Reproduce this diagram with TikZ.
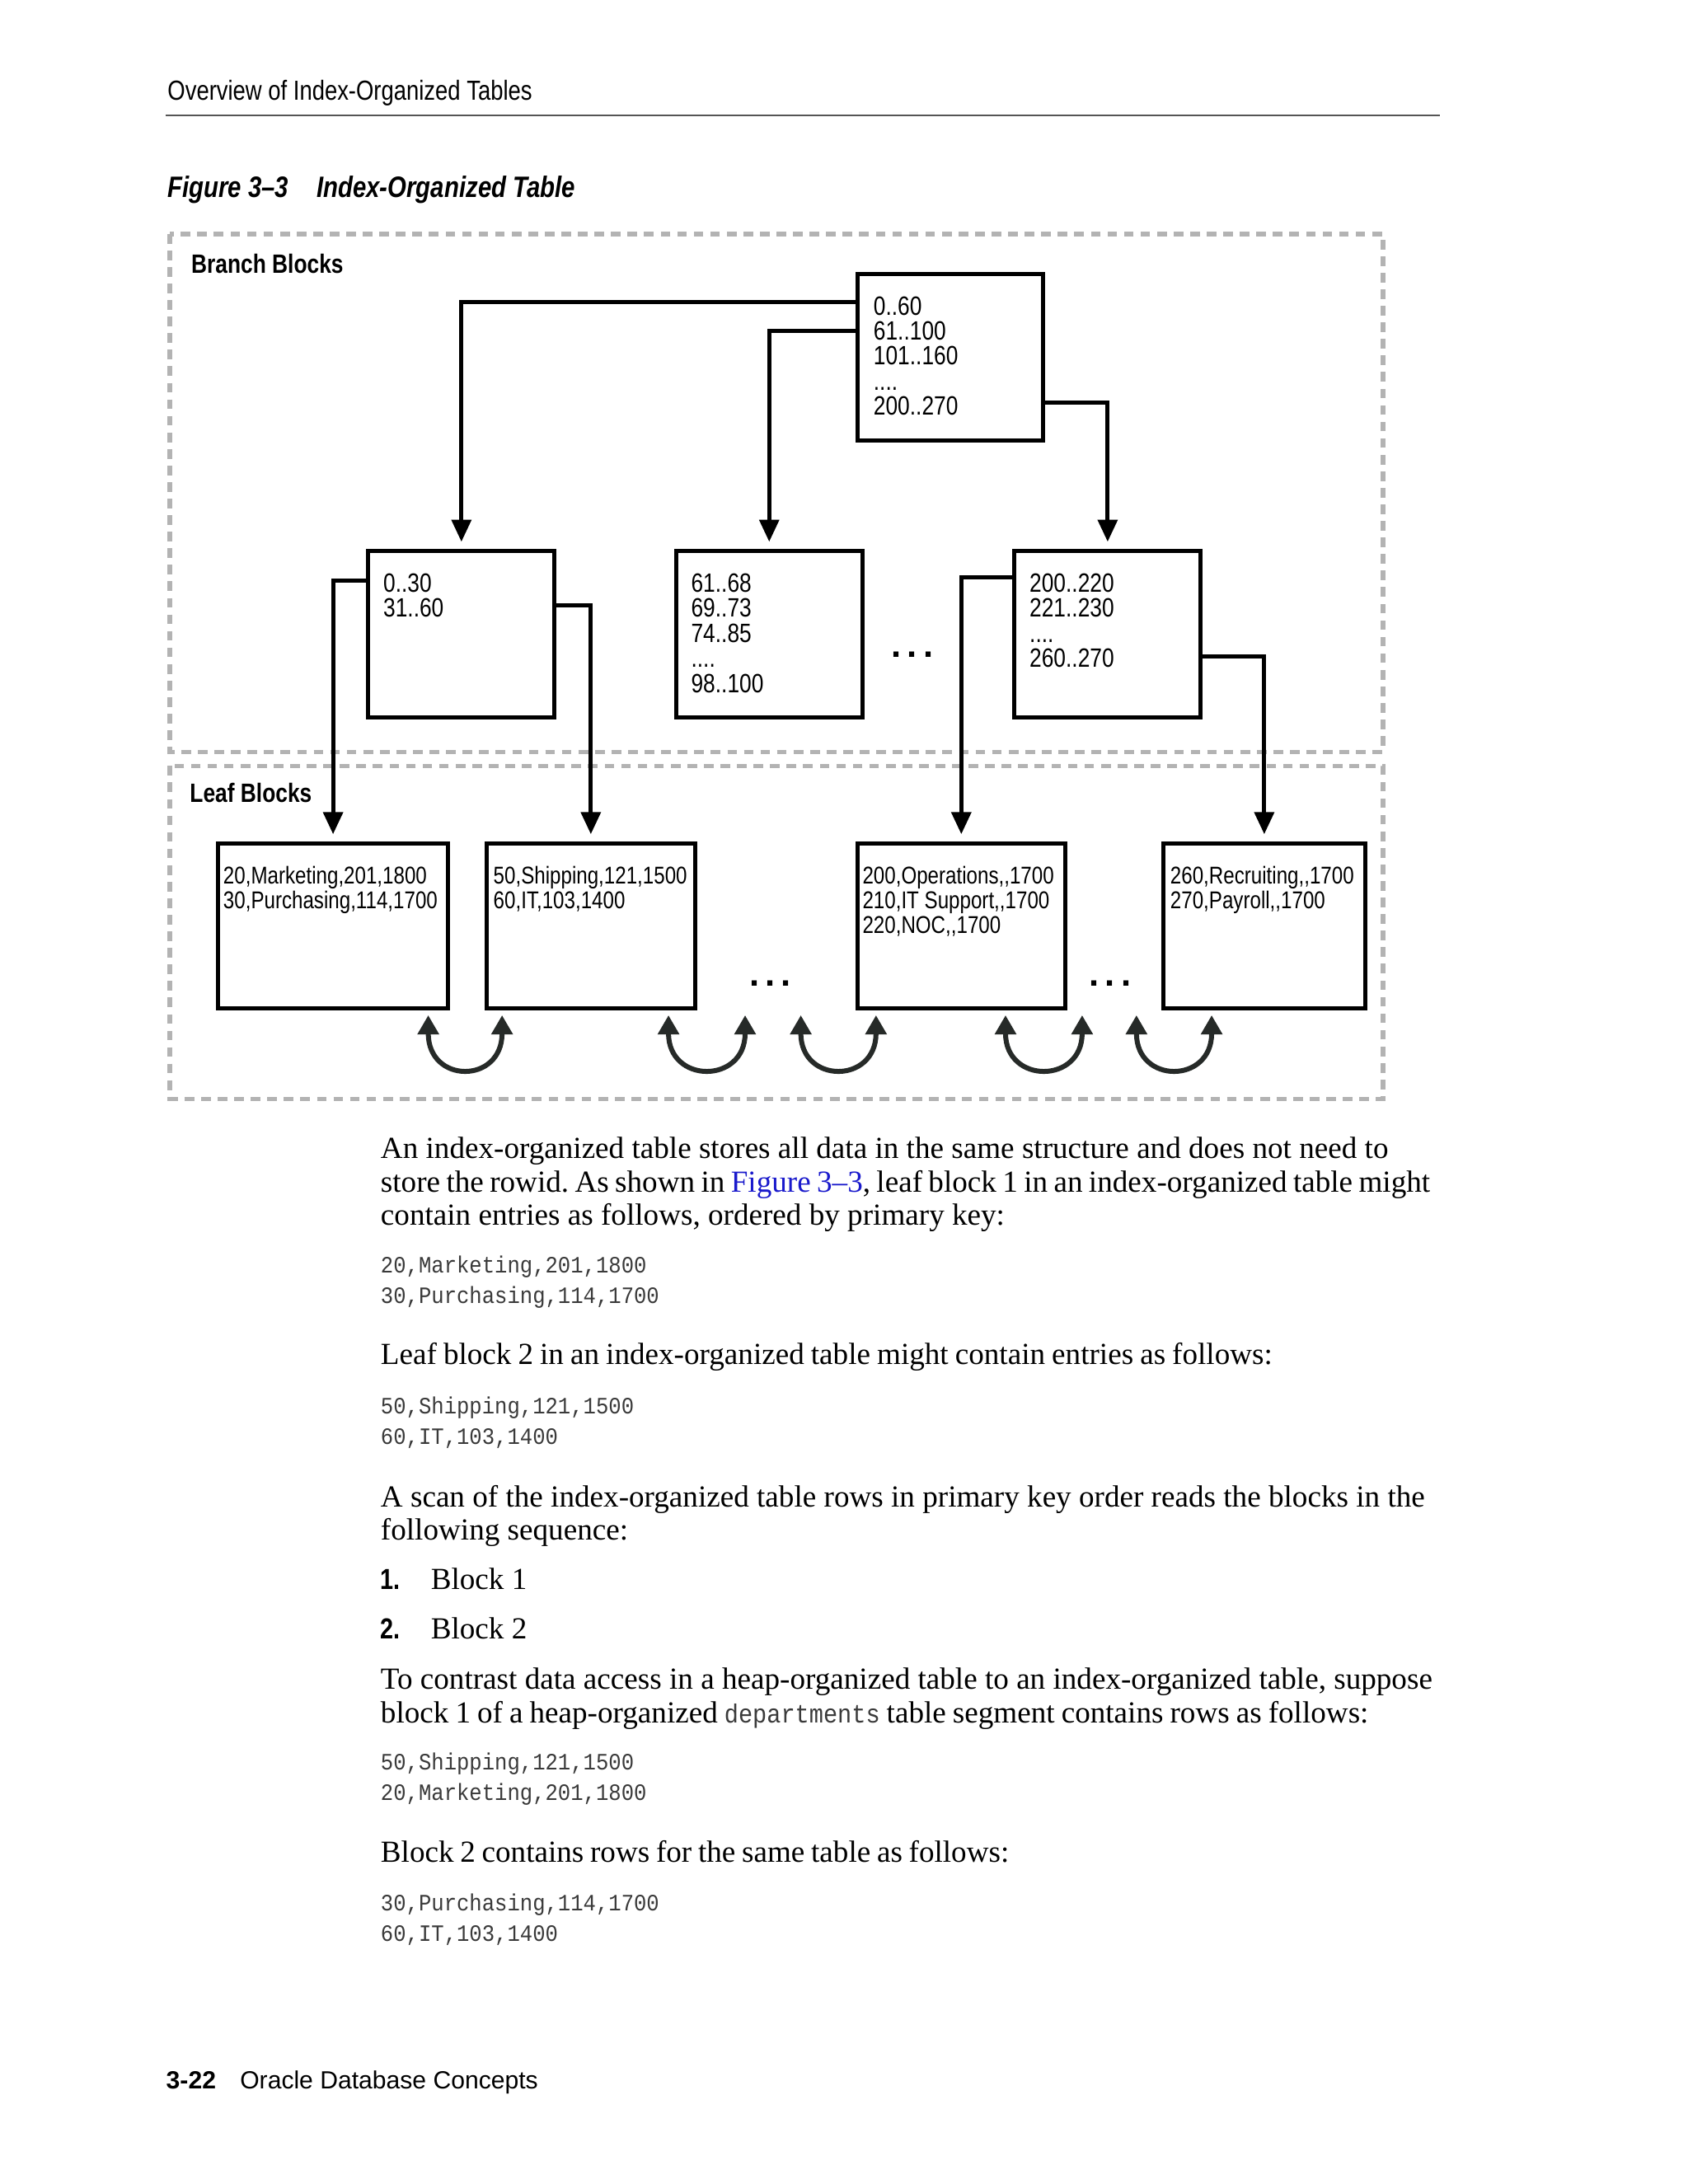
\documentclass[tikz,border=0pt]{standalone}
\usepackage{fontspec}
\usetikzlibrary{arrows.meta}
\setmainfont{Liberation Serif}
\newfontfamily\nsans{Liberation Sans}[FakeStretch=0.82]
\newfontfamily\wsans{Liberation Sans}
\newfontfamily\cmono{Liberation Mono}[FakeStretch=0.9]
\definecolor{dashgray}{HTML}{B3B3B3}
\definecolor{codegray}{HTML}{3A3A3A}
\definecolor{linkblue}{HTML}{1A1ACC}
\definecolor{rulegray}{HTML}{555555}
\definecolor{uarc}{HTML}{262A28}
\newcommand{\bodyfnt}{\rmfamily\fontsize{11.1}{12}\selectfont}
\newcommand{\codefnt}{\cmono\fontsize{8.5}{11}\selectfont}
\newcommand{\diagfnt}{\nsans\fontsize{8.8}{9.1}\selectfont}
\newcommand{\branchfnt}{\nsans\fontsize{9.6}{9.1}\selectfont}
\frenchspacing
\begin{document}
\begin{tikzpicture}[x=0.505pt,y=-0.505pt,
  box/.style={draw, line width=1.5pt, fill=white, inner sep=0pt, anchor=north west},
  lbl/.style={anchor=north west, inner sep=0pt, align=left, font=\diagfnt},
  blbl/.style={anchor=north west, inner sep=0pt, align=left, font=\branchfnt},
  conn/.style={line width=1.5pt, -{Triangle[length=8pt,width=7pt]}, shorten >=2.5pt},
  uarrow/.style={line width=1.8pt, draw=uarc, {Triangle[length=7pt,width=7.5pt]}-{Triangle[length=7pt,width=7.5pt]}},
  dashbox/.style={draw=dashgray, line width=1.6pt, dash pattern=on 3.5pt off 2.5pt},
  body/.style={anchor=base west, inner sep=0pt, font=\bodyfnt},
  code/.style={anchor=base west, inner sep=0pt, font=\codefnt, text=codegray},
  ttl/.style={anchor=base west, inner sep=0pt},
  dots/.style={inner sep=0pt, font=\wsans\bfseries\fontsize{13}{13}\selectfont}
]
\useasboundingbox[fill=white] (0,0) rectangle (1212,1568.3);

% header
\node[ttl, font=\nsans\fontsize{10}{12}\selectfont] (hdr) at (120,72) {Overview of Index-Organized Tables};
\draw[rulegray, line width=0.6pt] (119,83) -- (1034,83);
\node[ttl, font=\nsans\bfseries\itshape\fontsize{10.7}{12}\selectfont] (fignum) at (120,142) {Figure 3–3};
\node[ttl, font=\nsans\bfseries\itshape\fontsize{10.7}{12}\selectfont] (figttl) at (227,142) {Index-Organized Table};

% dashed regions
\draw[dashbox] (122,168) rectangle (993,540);
\draw[dashbox] (122,550) rectangle (993,789);
\node[ttl, font=\nsans\bfseries\fontsize{9.6}{11}\selectfont] (brlbl) at (137,196) {Branch Blocks};
\node[ttl, font=\nsans\bfseries\fontsize{9.6}{11}\selectfont] (lflbl) at (136,576) {Leaf Blocks};

% branch boxes
\node[box, minimum width=67.5pt, minimum height=60.5pt] (root) at (614,195) {};
\node[box, minimum width=67.5pt, minimum height=60.5pt] (A) at (263,394) {};
\node[box, minimum width=67.5pt, minimum height=60.5pt] (B) at (484,394) {};
\node[box, minimum width=67.5pt, minimum height=60.5pt] (C) at (727,394) {};
\node[blbl] (rootT) at ([xshift=6.5pt,yshift=-8.8pt]root.north west) {0..60\\61..100\\101..160\\....\\200..270};
\node[blbl] (AT) at ([xshift=6pt,yshift=-8.8pt]A.north west) {0..30\\31..60};
\node[blbl] (BT) at ([xshift=6pt,yshift=-8.8pt]B.north west) {61..68\\69..73\\74..85\\....\\98..100};
\node[blbl] (CT) at ([xshift=6pt,yshift=-8.8pt]C.north west) {200..220\\221..230\\....\\260..270};
\node[dots] (bdots) at (655,470) {.\,.\,.};

% leaf boxes
\node[box, minimum width=83.5pt, minimum height=60pt] (L1) at (155,604) {};
\node[box, minimum width=75.5pt, minimum height=60pt] (L2) at (348,604) {};
\node[box, minimum width=75.5pt, minimum height=60pt] (L3) at (614,604) {};
\node[box, minimum width=73pt, minimum height=60pt] (L4) at (834,604) {};
\node[lbl] (L1T) at ([xshift=2.5pt,yshift=-8.8pt]L1.north west) {20,Marketing,201,1800\\30,Purchasing,114,1700};
\node[lbl] (L2T) at ([xshift=3pt,yshift=-8.8pt]L2.north west) {50,Shipping,121,1500\\60,IT,103,1400};
\node[lbl] (L3T) at ([xshift=2.5pt,yshift=-8.8pt]L3.north west) {200,Operations,,1700\\210,IT Support,,1700\\220,NOC,,1700};
\node[lbl] (L4T) at ([xshift=3pt,yshift=-8.8pt]L4.north west) {260,Recruiting,,1700\\270,Payroll,,1700};
\node[dots] (ldots1) at (553,706) {.\,.\,.};
\node[dots] (ldots2) at (797,706) {.\,.\,.};

% connectors root -> level 2
\draw[conn] ([yshift=-11pt]root.north west) -| (A.north);
\draw[conn] ([yshift=-21.5pt]root.north west) -| (B.north);
\draw[conn] ([yshift=-47.5pt]root.north east) -| (C.north);
% level 2 -> leaves
\draw[conn] ([yshift=-11.5pt]A.north west) -| (L1.north);
\draw[conn] ([yshift=-20.5pt]A.north east) -| (L2.north);
\draw[conn] ([yshift=-10.5pt]C.north west) -| (L3.north);
\draw[conn] ([yshift=-39pt]C.north east) -| (L4.north);

% sibling links
\coordinate (u1a) at (307.5,729); \coordinate (u1b) at (360.5,729);
\coordinate (u2a) at (480,729); \coordinate (u2b) at (535,729);
\coordinate (u3a) at (575,729); \coordinate (u3b) at (629,729);
\coordinate (u4a) at (722,729); \coordinate (u4b) at (777,729);
\coordinate (u5a) at (816,729); \coordinate (u5b) at (870,729);
\foreach \i in {1,...,5}{
  \draw[uarrow] (u\i a) .. controls ([yshift=-25pt]u\i a) and ([yshift=-25pt]u\i b) .. (u\i b);
}

% body text
\node[body] (p1a) at (273,832) {An index-organized table stores all data in the same structure and does not need to};
\node[body] (p1b) at (273,856) {\spaceskip=2.2pt store the rowid. As shown in \textcolor{linkblue}{Figure 3–3}, leaf block 1 in an index-organized table might};
\node[body] (p1c) at (273,880) {contain entries as follows, ordered by primary key:};
\node[code] (c1a) at (273,914) {20,Marketing,201,1800};
\node[code] (c1b) at (273,936) {30,Purchasing,114,1700};
\node[body] (p2) at (273,980) {\spaceskip=2.4pt Leaf block 2 in an index-organized table might contain entries as follows:};
\node[code] (c2a) at (273,1015) {50,Shipping,121,1500};
\node[code] (c2b) at (273,1037) {60,IT,103,1400};
\node[body] (p3a) at (273,1082) {A scan of the index-organized table rows in primary key order reads the blocks in the};
\node[body] (p3b) at (273,1106) {following sequence:};
\node[ttl, font=\nsans\bfseries\fontsize{10.5}{12}\selectfont] (n1) at (273,1141) {1.};
\node[body] (i1) at (309,1141) {Block 1};
\node[ttl, font=\nsans\bfseries\fontsize{10.5}{12}\selectfont] (n2) at (273,1177) {2.};
\node[body] (i2) at (309,1177) {Block 2};
\node[body] (p4a) at (273,1213) {To contrast data access in a heap-organized table to an index-organized table, suppose};
\node[body] (p4b) at (273,1237) {\spaceskip=2.4pt block 1 of a heap-organized {\color{codegray}\cmono\fontsize{9.5}{11}\selectfont departments} table segment contains rows as follows:};
\node[code] (c3a) at (273,1271) {50,Shipping,121,1500};
\node[code] (c3b) at (273,1293) {20,Marketing,201,1800};
\node[body] (p5) at (273,1337) {\spaceskip=2.3pt Block 2 contains rows for the same table as follows:};
\node[code] (c4a) at (273,1372) {30,Purchasing,114,1700};
\node[code] (c4b) at (273,1394) {60,IT,103,1400};

% footer
\node[ttl, font=\wsans\bfseries\fontsize{9}{11}\selectfont] (pg) at (119,1500) {3-22};
\node[ttl, font=\wsans\fontsize{9}{11}\selectfont] (book) at (172,1500) {Oracle Database Concepts};
\end{tikzpicture}
\end{document}
